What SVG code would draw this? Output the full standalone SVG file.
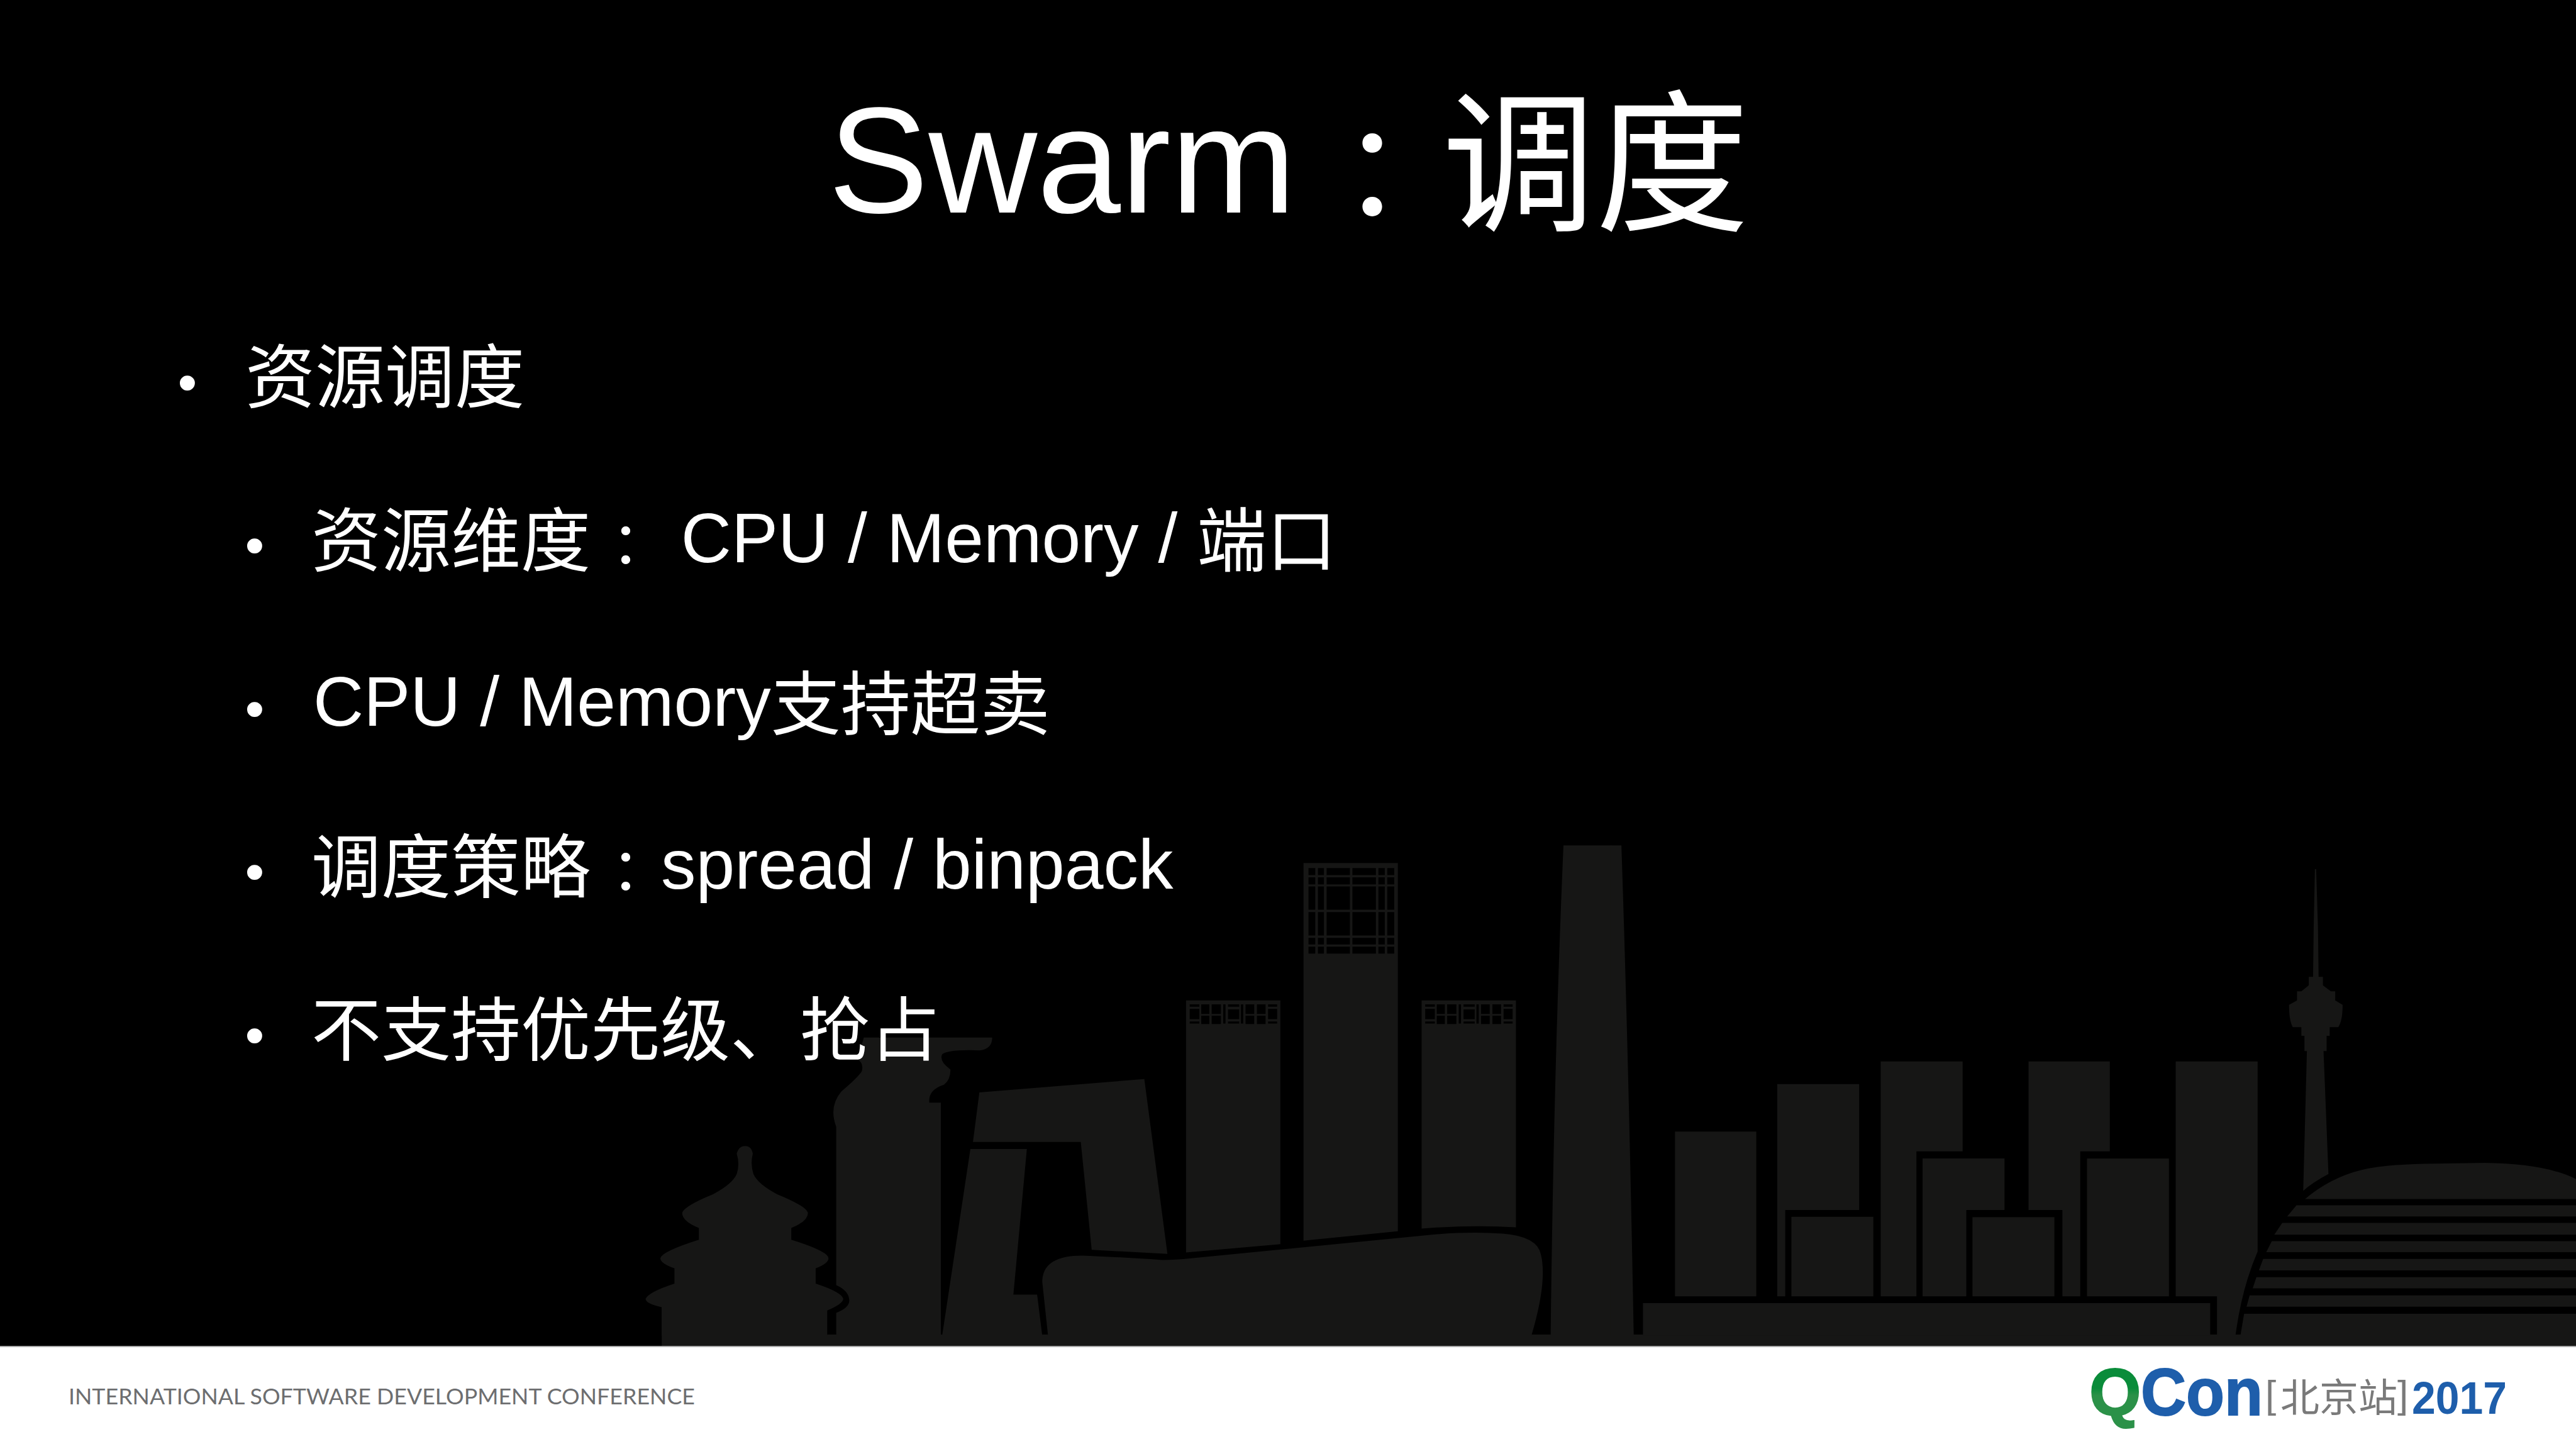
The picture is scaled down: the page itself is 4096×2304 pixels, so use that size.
<svg xmlns="http://www.w3.org/2000/svg" width="4096" height="2304" viewBox="0 0 4096 2304">
<style>
text{font-family:"Liberation Sans","Noto Sans CJK SC",sans-serif}
.b{fill:#fff;font-size:111px}
.c{font-family:"Noto Sans CJK TC",sans-serif;font-size:93px}
.d{fill:#fff;font-size:88px;text-anchor:middle}
.s{fill:#161615}
</style>
<defs>
<linearGradient id="qg" x1="0" y1="0" x2="0" y2="1"><stop offset="0" stop-color="#0a8c3a"/><stop offset="0.45" stop-color="#0a8c3a"/><stop offset="0.55" stop-color="#2b9148"/><stop offset="1" stop-color="#2b9148"/></linearGradient>
<path id="sideWin" fill="#000" d="M868 948h50v14h-50zM868 975h50v61h-50zM868 1050h50v12h-50zM928 948h42v57h-42zM928 1015h42v50h-42zM982 948h48v57h-48zM982 1015h48v50h-48zM1042 948h12v114h-12zM1067 948h58v14h-58zM1067 978h58v58h-58zM1067 1050h58v12h-58zM1134 948h12v114h-12zM1158 948h45v57h-45zM1158 1015h45v50h-45zM1217 948h45v57h-45zM1217 1015h45v50h-45zM1275 948h47v14h-47zM1275 975h47v61h-47zM1275 1050h47v12h-47z"/>
</defs>
<rect id="background" width="4096" height="2304" fill="#000"/>
<g id="skyline" transform="scale(.80016)">
<rect class="s" x="1315" y="2652" width="3804" height="24"/>
<g id="skyline-left" class="s" transform="translate(1200 1650) scale(1.2755 .6696)">
<path id="temple" d="M90 1500V1415Q65 1405 65 1390Q70 1370 110 1345V1300Q88 1285 88 1270Q90 1250 148 1215V1180Q122 1160 122 1135Q125 1115 170 1080Q200 1050 207 1020Q212 990 207 960Q210 937 220 937Q230 937 232 960Q228 990 233 1020Q240 1050 270 1080Q315 1115 318 1135Q318 1160 292 1180V1215Q350 1250 350 1270Q350 1285 330 1300V1345Q370 1370 373 1390Q373 1405 348 1425V1500Z"/>
<path id="drum-tower" d="M362 1500V1432Q385 1415 382 1390Q380 1365 362 1350V880Q350 820 370 775Q395 735 402 715Q405 690 395 680L405 615H605Q605 650 585 653Q535 650 527 665Q522 685 540 710Q540 740 530 755Q505 770 507 808H525V1500Z"/>
<path id="cctv-top" d="M585 778L842 738L878 1257L760 1245L743 925H575Z"/>
<path id="cctv-leg" d="M527 1500L571 946H659L638 1378H675L683 1500Z"/>
<path id="stadium" d="M692 1500L683 1340Q683 1262 745 1262Q790 1265 870 1275Q890 1275 915 1270L1290 1200Q1350 1190 1400 1197Q1455 1205 1460 1260Q1470 1340 1445 1500Z"/>
<path id="tower-1" d="M907 505H1054V1228L907 1253Z"/>
<path id="tower-2" d="M1090 97H1237V1190L1090 1218Z"/>
<path id="tower-3" d="M1274 505H1421V1178Q1350 1170 1274 1182Z"/>
<path id="zun" d="M1495 45H1570V1500H1475Q1480 700 1495 45Z"/>
</g>
<g id="windows" transform="translate(2500 1680) scale(.38265 .33333)">
<path id="tallWin" fill="#000" d="M262 135h35v42h-35zM311 135h31v42h-31zM356 135h121v42h-121zM490 135h122v42h-122zM625 135h33v42h-33zM671 135h36v42h-36zM262 190h35v42h-35zM311 190h31v42h-31zM356 190h121v42h-121zM490 190h122v42h-122zM625 190h33v42h-33zM671 190h36v42h-36zM262 245h35v138h-35zM311 245h31v138h-31zM356 245h121v138h-121zM490 245h122v138h-122zM625 245h33v138h-33zM671 245h36v138h-36zM262 397h35v140h-35zM311 397h31v140h-31zM356 397h121v140h-121zM490 397h122v140h-122zM625 397h33v140h-33zM671 397h36v140h-36zM262 551h35v39h-35zM311 551h31v39h-31zM356 551h121v39h-121zM490 551h122v39h-122zM625 551h33v39h-33zM671 551h36v39h-36zM262 604h35v41h-35zM311 604h31v41h-31zM356 604h121v41h-121zM490 604h122v41h-122zM625 604h33v41h-33zM671 604h36v41h-36z"/>
<use href="#sideWin"/>
<use href="#sideWin" x="-1223"/>
</g>
<g id="skyline-right" class="s" transform="translate(3200 1650) scale(1.2239 .6696)">
<path d="M38 1500Q30 700 18 45H0V1500Z"/>
<rect x="105" y="894" width="132" height="489"/>
<path d="M271 753H404V1127H284V1383H271Z"/>
<rect x="294" y="1147" width="133" height="236"/>
<path d="M439 686H572V953H497V1383H439Z"/>
<path d="M507 974H640V1127H578V1383H507Z"/>
<rect x="588" y="1148" width="133" height="235"/>
<path d="M679 686H811V953H763V1383H734V1127H679Z"/>
<rect x="774" y="974" width="133" height="409"/>
<path d="M918 686H1051V1250Q1025 1360 1015 1500H985V1383H918Z"/>
<rect x="53" y="1403" width="921" height="97"/>
<path id="tv-tower" d="M1144 115H1146L1149 290L1150 435H1157V460L1170 478H1177V505L1189 518Q1189 565 1182 584H1168V610H1163V655H1158L1166 1020Q1140 1045 1125 1070L1131 655H1127V610H1122V584H1108Q1102 565 1102 518L1115 505V478H1122L1134 460V435H1141L1142 290Z"/>
<path id="dome" d="M1128 1094Q1170 1030 1220 1008Q1260 990 1340 989L1420 987Q1520 990 1568 1035V1094Z"/>
<path d="M1114 1113H1568V1146H1099ZM1091 1165H1568V1200H1078ZM1074 1219H1568V1252H1065ZM1060 1272H1568V1306H1053ZM1049 1326H1568V1359H1043ZM1038 1380H1568V1414H1033ZM1029 1435H1568V1500H1023Z"/>
</g>
</g>
<g id="title"><text x="1317" y="338" fill="#fff" font-size="239">Swarm<tspan x="2079.5" y="354" class="c" style="font-size:205px">：</tspan><tspan x="2293" y="349" font-size="244">调度</tspan></text></g>
<g id="bullets">
<g id="item-1"><text class="d" x="298" y="638">•</text><text class="b" x="390" y="640">资源调度</text></g>
<g id="item-2"><text class="d" x="405" y="897">•</text><text class="b" x="495" y="900">资源维度<tspan x="948.5" y="901.5" class="c">：</tspan><tspan x="1052" y="894"> CPU / Memory / </tspan><tspan y="900">端口</tspan></text></g>
<g id="item-3"><text class="d" x="405" y="1157">•</text><text class="b" x="498" y="1153.5">CPU / Memory<tspan y="1159.5">支持超卖</tspan></text></g>
<g id="item-4"><text class="d" x="405" y="1416">•</text><text class="b" x="495" y="1419">调度策略<tspan x="948.5" y="1420.5" class="c">：</tspan><tspan x="1051" y="1413">spread / binpack</tspan></text></g>
<g id="item-5"><text class="d" x="405" y="1676">•</text><text class="b" x="495" y="1678">不支持优先级、抢占</text></g>
</g>
<g id="footer">
<rect x="0" y="2140" width="4096" height="164" fill="#fff"/>
<rect x="0" y="2140" width="4096" height="2" fill="#aaa"/>
<text x="109" y="2233" font-size="35" fill="#6d6e70" textLength="996" lengthAdjust="spacingAndGlyphs" style="font-family:Lato,sans-serif">INTERNATIONAL SOFTWARE DEVELOPMENT CONFERENCE</text>
</g>
<g id="logo" font-weight="bold">
<text x="3322" y="2250" font-size="106" fill="url(#qg)" stroke="url(#qg)" stroke-width="2">Q</text>
<text x="3404" y="2250" font-size="106" fill="#1e5eab" stroke="#1e5eab" stroke-width="2" textLength="194" lengthAdjust="spacingAndGlyphs">Con</text>
<text x="3602" y="2238" font-size="62" fill="#7a7a7a" font-weight="normal">[<tspan x="3626" y="2245">北京站</tspan><tspan x="3812" y="2238">]</tspan></text>
<text x="3835" y="2248" font-size="72" fill="#1e5eab" textLength="151" lengthAdjust="spacingAndGlyphs">2017</text>
</g>
</svg>
